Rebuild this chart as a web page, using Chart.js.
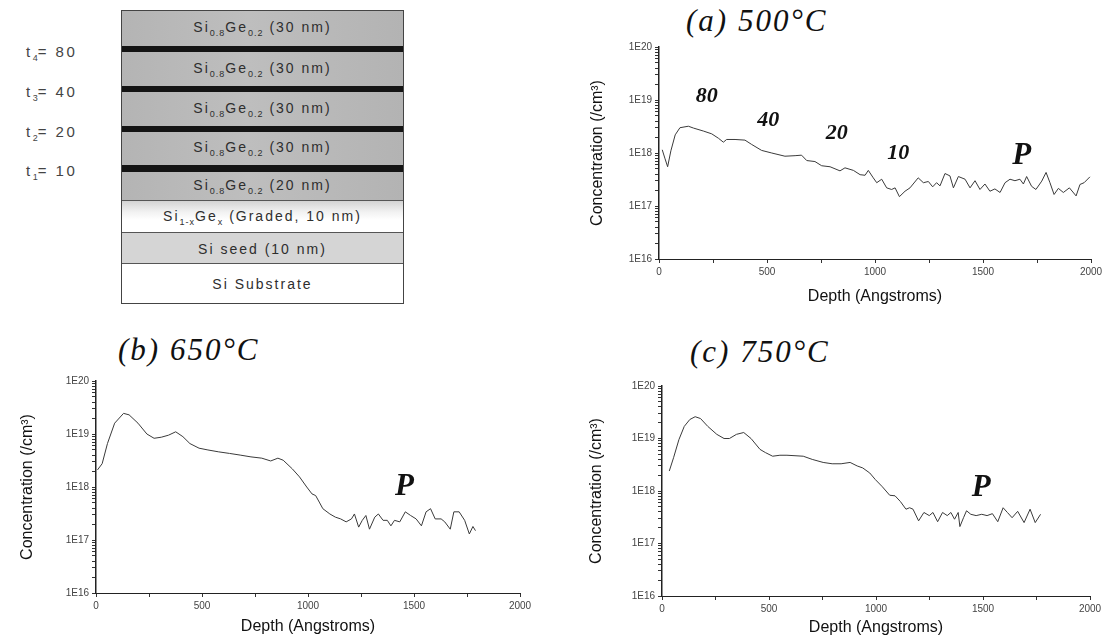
<!DOCTYPE html>
<html>
<head>
<meta charset="utf-8">
<script src="https://cdn.jsdelivr.net/npm/chart.js@4.4.1/dist/chart.umd.min.js"></script>
<style>
  html, body { margin: 0; padding: 0; background: #fff; }
  body { width: 1113px; height: 642px; position: relative; overflow: hidden; font-family: Arial, "Liberation Sans", sans-serif; }
  canvas { position: absolute; }

  /* layer stack */
  #stack { position: absolute; left: 121px; top: 10px; width: 283px; height: 294px; border: 1.5px solid #444; box-sizing: border-box; background: #fff; }
  .layer { position: absolute; left: 0; right: 0; display: flex; align-items: center; justify-content: center;
           color: #2e2e2e; font-size: 14px; letter-spacing: 2px; white-space: nowrap; }
  .layer sub { font-size: 9px; vertical-align: -4px; letter-spacing: 1px; }
  .sige { background: linear-gradient(90deg, #b4b4b4 0%, #bebebe 45%, #b3b3b3 100%); }
  .bar { background: #141414; }
  .graded { background: linear-gradient(180deg, #d3d3d3 0%, #f2f2f2 35%, #fff 60%); border-top: 1.5px solid #555; }
  .seed { background: #d5d5d5; border-top: 1.5px solid #555; }
  .subst { background: #fff; border-top: 1.5px solid #555; }
  .tlab { position: absolute; left: 26px; color: #444; font-size: 15px; letter-spacing: 2.5px; white-space: nowrap; line-height: 16px; }
  .tlab sub { font-size: 9px; vertical-align: -4px; letter-spacing: 0; }

  .ptitle { position: absolute; font-family: "Liberation Serif", "Times New Roman", serif; font-style: italic;
            font-size: 31px; line-height: 31px; letter-spacing: 2px; color: #111; white-space: nowrap; }
</style>
</head>
<body>

<div class="tlab" style="top:44px">t<sub>4</sub>= 80</div>
<div class="tlab" style="top:84px">t<sub>3</sub>= 40</div>
<div class="tlab" style="top:124px">t<sub>2</sub>= 20</div>
<div class="tlab" style="top:163px">t<sub>1</sub>= 10</div>

<div id="stack">
  <div class="layer sige" style="top:0;height:35px"><span>Si<sub>0.8</sub>Ge<sub>0.2</sub> (30 nm)</span></div>
  <div class="layer bar" style="top:35px;height:6px"></div>
  <div class="layer sige" style="top:41px;height:34px"><span>Si<sub>0.8</sub>Ge<sub>0.2</sub> (30 nm)</span></div>
  <div class="layer bar" style="top:75px;height:6px"></div>
  <div class="layer sige" style="top:81px;height:34px"><span>Si<sub>0.8</sub>Ge<sub>0.2</sub> (30 nm)</span></div>
  <div class="layer bar" style="top:115px;height:6px"></div>
  <div class="layer sige" style="top:121px;height:33px"><span>Si<sub>0.8</sub>Ge<sub>0.2</sub> (30 nm)</span></div>
  <div class="layer bar" style="top:154px;height:7px"></div>
  <div class="layer sige" style="top:161px;height:28px"><span>Si<sub>0.8</sub>Ge<sub>0.2</sub> (20 nm)</span></div>
  <div class="layer graded" style="top:189px;height:32px"><span>Si<sub>1-x</sub>Ge<sub>x</sub> (Graded, 10 nm)</span></div>
  <div class="layer seed" style="top:221px;height:31px"><span>Si seed (10 nm)</span></div>
  <div class="layer subst" style="top:252px;height:39px"><span>Si Substrate</span></div>
</div>

<div class="ptitle" style="left:686px;top:5px">(a) 500°C</div>
<div class="ptitle" style="left:118px;top:334px">(b) 650°C</div>
<div class="ptitle" style="left:690px;top:336px">(c) 750°C</div>

<canvas id="chart-500" width="550" height="285" style="left:555px;top:37px"></canvas>
<canvas id="chart-650" width="540" height="272" style="left:0px;top:370px"></canvas>
<canvas id="chart-750" width="550" height="272" style="left:555px;top:370px"></canvas>

<script>
// ---- P depth profiles (depth in Angstroms, concentration in /cm3) ----
const depth500 = [15, 27, 40, 55, 75, 97, 136, 160, 205, 244, 275, 298, 313, 352, 398, 429, 475, 522, 583, 630,
  660, 684, 722, 753, 792, 838, 861, 900, 931, 954, 969, 992, 1008, 1031, 1054, 1077, 1093, 1113, 1139, 1162,
  1200, 1224, 1247, 1267, 1285, 1301, 1324, 1347, 1363, 1386, 1417, 1440, 1463, 1486, 1509, 1532, 1555, 1579,
  1602, 1625, 1648, 1671, 1687, 1702, 1725, 1745, 1772, 1792, 1810, 1829, 1849, 1872, 1900, 1931, 1949, 1968, 1995];
const conc500 = [1.15e18, 8e17, 5.5e17, 1.1e18, 2.2e18, 3.0e18, 3.2e18, 2.95e18, 2.6e18, 2.3e18, 1.9e18, 1.6e18,
  1.8e18, 1.8e18, 1.75e18, 1.45e18, 1.12e18, 1.0e18, 8.7e17, 8.9e17, 9.1e17, 7.2e17, 6.9e17, 5.75e17, 5.5e17,
  4.6e17, 5.25e17, 4.7e17, 3.9e17, 3.8e17, 4.7e17, 3.4e17, 2.75e17, 3.2e17, 2.2e17, 2.05e17, 2.2e17, 1.5e17,
  1.9e17, 2.2e17, 3.4e17, 2.75e17, 2.9e17, 2.3e17, 2.75e17, 2.4e17, 4.1e17, 3.7e17, 2.2e17, 3.6e17, 3.2e17,
  2.2e17, 3.0e17, 2.05e17, 2.6e17, 1.9e17, 2.1e17, 1.8e17, 2.75e17, 3.2e17, 3.0e17, 3.2e17, 2.6e17, 3.6e17,
  2.35e17, 2.05e17, 2.95e17, 4.3e17, 2.75e17, 1.65e17, 2.15e17, 1.8e17, 2.2e17, 1.55e17, 2.55e17, 2.75e17, 3.55e17];

const depth650 = [7, 29, 54, 88, 130, 156, 198, 240, 274, 308, 342, 376, 410, 443, 486, 528, 579, 630, 680, 731,
  782, 824, 858, 883, 926, 960, 994, 1019, 1036, 1053, 1070, 1103, 1129, 1154, 1180, 1205, 1219, 1239, 1256, 1273,
  1290, 1315, 1332, 1354, 1374, 1391, 1408, 1433, 1459, 1484, 1510, 1535, 1557, 1578, 1600, 1628, 1645, 1671,
  1688, 1713, 1739, 1761, 1778, 1790];
const conc650 = [2.1e18, 2.75e18, 6.6e18, 1.6e19, 2.45e19, 2.3e19, 1.6e19, 1.0e19, 8.3e18, 8.7e18, 9.5e18, 1.1e19,
  8.9e18, 6.6e18, 5.4e18, 5.0e18, 4.6e18, 4.3e18, 4.0e18, 3.7e18, 3.5e18, 3.1e18, 3.5e18, 3.2e18, 2.2e18, 1.55e18,
  1.0e18, 7.4e17, 6.9e17, 5.2e17, 3.9e17, 3.1e17, 2.7e17, 2.5e17, 2.2e17, 2.5e17, 3.1e17, 1.75e17, 2.35e17, 2.9e17,
  1.6e17, 2.7e17, 3.1e17, 2.35e17, 2.35e17, 1.85e17, 2.35e17, 2.2e17, 3.4e17, 2.9e17, 2.5e17, 1.85e17, 3.4e17,
  3.9e17, 2.5e17, 2.5e17, 2.2e17, 1.6e17, 3.4e17, 3.4e17, 2.35e17, 1.3e17, 1.8e17, 1.5e17];

const depth750 = [34, 54, 79, 104, 130, 155, 180, 214, 256, 290, 315, 348, 382, 416, 458, 483, 517, 551, 584, 660,
  702, 753, 795, 837, 879, 912, 938, 971, 997, 1030, 1064, 1089, 1114, 1140, 1157, 1173, 1199, 1224, 1249, 1266,
  1288, 1311, 1333, 1350, 1367, 1384, 1392, 1409, 1423, 1443, 1468, 1494, 1519, 1544, 1569, 1594, 1614, 1636,
  1662, 1692, 1720, 1744, 1769];
const conc750 = [2.4e18, 4.3e18, 9.5e18, 1.7e19, 2.3e19, 2.6e19, 2.4e19, 1.7e19, 1.2e19, 1.0e19, 1.0e19, 1.2e19,
  1.3e19, 1.0e19, 6.2e18, 5.4e18, 4.6e18, 4.8e18, 4.8e18, 4.6e18, 4.0e18, 3.5e18, 3.3e18, 3.3e18, 3.5e18, 3.0e18,
  2.75e18, 2.2e18, 1.65e18, 1.2e18, 8.3e17, 8.1e17, 6.3e17, 4.5e17, 4.8e17, 4.5e17, 2.7e17, 3.9e17, 3.4e17, 3.9e17,
  2.6e17, 3.9e17, 3.4e17, 3.9e17, 2.9e17, 3.9e17, 2.1e17, 3.1e17, 4.2e17, 3.6e17, 3.4e17, 3.6e17, 3.4e17, 3.7e17,
  2.6e17, 4.8e17, 3.9e17, 3.1e17, 4.1e17, 2.5e17, 4.5e17, 2.5e17, 3.6e17];

// ---- axis ticks ----
const depthTicks = [0, 250, 500, 750, 1000, 1250, 1500, 1750, 2000];
const depthLabels = [0, 500, 1000, 1500, 2000];
const decades = [16, 17, 18, 19];
const mantissas = [1, 2, 3, 4, 5, 6, 7, 8, 9];
const concTicks = decades.flatMap(e => mantissas.map(m => m * Math.pow(10, e))).concat([1e20]);

// ---- in-plot labels (text, depth, concentration) ----
const notes500 = ['80', '40', '20', '10', 'P'];
const notes500Depth = [221, 506, 823, 1108, 1679];
const notes500Conc = [1.15e19, 4.2e18, 2.4e18, 1.0e18, 8.9e17];
const notes650 = ['P'];
const notes650Depth = [1455];
const notes650Conc = [1.0e18];
const notes750 = ['P'];
const notes750Depth = [1492];
const notes750Conc = [1.15e18];

const notePlugin = {
  id: 'notes',
  afterDatasetsDraw(chart, args, opts) {
    const { ctx, scales: { x, y } } = chart;
    ctx.save();
    ctx.fillStyle = '#111';
    ctx.textAlign = 'center';
    ctx.textBaseline = 'middle';
    opts.text.forEach((t, i) => {
      ctx.font = t === 'P'
        ? 'italic bold 31px "Liberation Serif", serif'
        : 'italic bold 22px "Liberation Serif", serif';
      ctx.fillText(t, x.getPixelForValue(opts.depth[i]), y.getPixelForValue(opts.conc[i]));
    });
    ctx.restore();
  }
};

const tickFont = { size: 10, family: 'Arial' };
const titleFont = { size: 16, family: 'Arial' };

function profileChart(id, depth, conc, box, notes) {
  return new Chart(document.getElementById(id), {
    type: 'line',
    data: {
      datasets: [{
        data: depth.map((d, i) => ({ x: d, y: conc[i] })),
        borderColor: '#3a3a3a',
        borderWidth: 1,
        pointRadius: 0,
        tension: 0,
        fill: false
      }]
    },
    options: {
      responsive: false,
      animation: false,
      events: [],
      layout: { padding: { left: 0, top: box.top, right: box.right, bottom: 0 } },
      plugins: { legend: { display: false }, tooltip: { enabled: false }, notes },
      scales: {
        x: {
          type: 'linear', min: 0, max: 2000,
          afterBuildTicks: s => { s.ticks = depthTicks.map(v => ({ value: v })); },
          ticks: {
            autoSkip: false, maxRotation: 0, padding: 3, color: '#444', font: tickFont,
            callback: v => depthLabels.includes(v) ? String(v) : ''
          },
          grid: { drawOnChartArea: false, tickLength: 4, tickColor: '#333' },
          border: { color: '#222', width: 1 },
          title: { display: true, text: 'Depth (Angstroms)', color: '#111', font: titleFont,
                   padding: { top: 0, bottom: box.xTitle } },
          afterFit: s => { s.height = box.xh; s.paddingLeft = 0; s.paddingRight = 0; }
        },
        y: {
          type: 'logarithmic', min: 1e16, max: 1e20,
          afterBuildTicks: s => { s.ticks = concTicks.map(v => ({ value: v })); },
          ticks: {
            autoSkip: false, padding: 3, color: '#444', font: tickFont,
            callback: v => {
              const e = Math.log10(v);
              return Math.abs(e - Math.round(e)) < 1e-9 ? '1E' + Math.round(e) : '';
            }
          },
          grid: { drawOnChartArea: false, tickLength: 4, tickColor: '#333' },
          border: { color: '#222', width: 1.5 },
          title: { display: true, text: 'Concentration (/cm³)', color: '#111', font: titleFont,
                   padding: { top: box.yTitle, bottom: 0 } },
          afterFit: s => { s.width = box.yw; s.paddingTop = 0; s.paddingBottom = 0; }
        }
      }
    },
    plugins: [notePlugin]
  });
}

profileChart('chart-500', depth500, conc500,
  { top: 10, right: 14, yw: 104, xh: 63, xTitle: 15.4, yTitle: 33.4 },
  { text: notes500, depth: notes500Depth, conc: notes500Conc });

profileChart('chart-650', depth650, conc650,
  { top: 11, right: 20, yw: 96, xh: 49, xTitle: 5.4, yTitle: 18 },
  { text: notes650, depth: notes650Depth, conc: notes650Conc });

profileChart('chart-750', depth750, conc750,
  { top: 16, right: 15, yw: 107, xh: 46, xTitle: 4.4, yTitle: 32.4 },
  { text: notes750, depth: notes750Depth, conc: notes750Conc });
</script>
</body>
</html>
